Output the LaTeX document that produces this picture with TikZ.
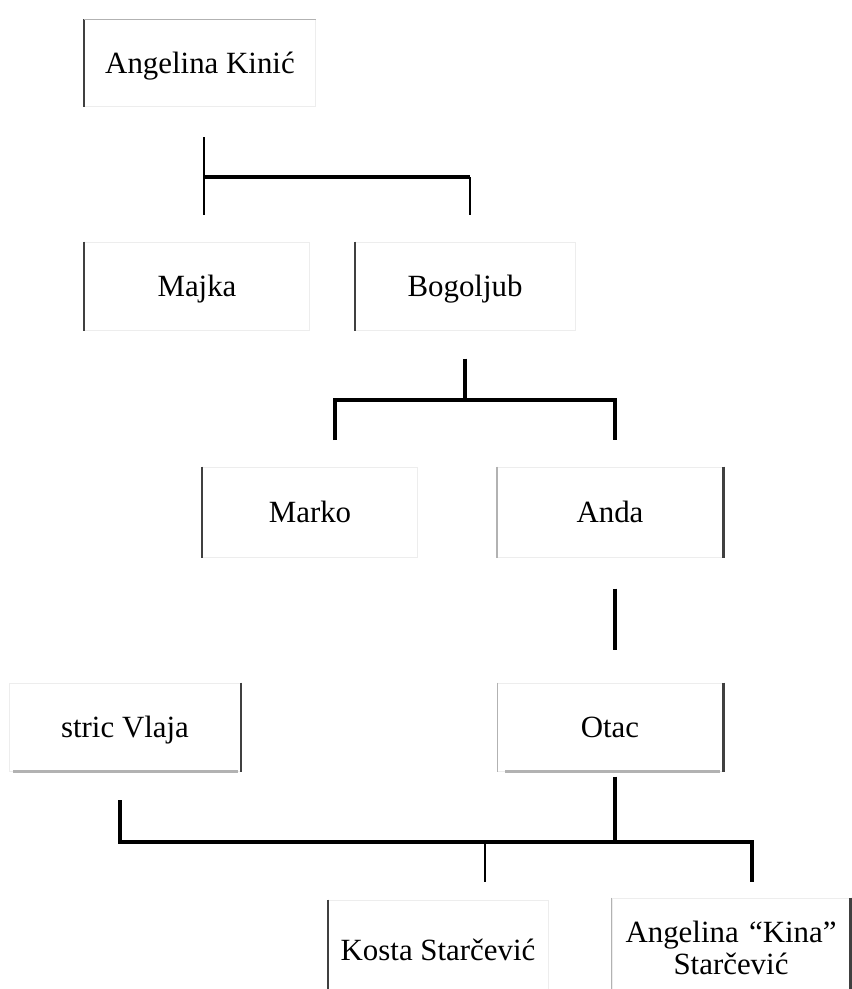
\documentclass[tikz,border=0pt]{standalone}
\usepackage{fontspec}
\setmainfont{Liberation Serif}
\begin{document}
\begin{tikzpicture}[x=1bp,y=-1bp,
  person/.style={draw=black!7, line width=1bp, inner sep=0pt, font=\fontsize{31}{32}\selectfont, align=center},
  oneline/.style={person, text height=24bp, text depth=4bp},
  edge/.style={line width=2bp, black!75},
  grayedge/.style={line width=2bp, black!30},
  thin/.style={line width=2bp},
  thick/.style={line width=4bp}]
\useasboundingbox (0,0) rectangle (852,989);
% boxes
\node[oneline, minimum width=230bp, minimum height=87bp] (kinic) at (200,63) {Angelina Kinić};
\node[oneline, minimum width=225bp, minimum height=88bp] (majka) at (197,286) {Majka};
\node[oneline, minimum width=220bp, minimum height=88bp] (bogoljub) at (465,286) {Bogoljub};
\node[oneline, minimum width=215bp, minimum height=90bp] (marko) at (310,512) {Marko};
\node[oneline, minimum width=226bp, minimum height=90bp] (anda) at (610,512) {Anda};
\node[oneline, minimum width=230bp, minimum height=88bp] (vlaja) at (125,727) {stric Vlaja};
\node[oneline, minimum width=225bp, minimum height=88bp] (otac) at (610,727) {Otac};
\node[oneline, minimum width=220bp, minimum height=100bp] (kosta) at (438,950) {Kosta Starčević};
\node[person, minimum width=238bp, minimum height=100bp, text width=238bp] (kina) at (731,948) {Angelina “Kina”\\Starčević};
% emphasised box edges
\draw[edge] (kinic.north west) -- (kinic.south west);
\draw[grayedge, line width=1bp] (kinic.north west) -- (kinic.north east);
\draw[edge] (majka.north west) -- (majka.south west);
\draw[edge] (bogoljub.north west) -- (bogoljub.south west);
\draw[edge] (marko.north west) -- (marko.south west);
\draw[grayedge] (anda.north west) -- (anda.south west);
\draw[edge, line width=3bp] (anda.north east) -- (anda.south east);
\draw[edge] (vlaja.north east) -- (vlaja.south east);
\draw[grayedge, line width=3bp] ([xshift=4bp]vlaja.south west) -- ([xshift=-3bp]vlaja.south east);
\draw[grayedge, line width=1bp] (otac.north west) -- (otac.south west);
\draw[edge, line width=3bp] (otac.north east) -- (otac.south east);
\draw[grayedge, line width=3bp] ([xshift=8bp]otac.south west) -- ([xshift=-3bp]otac.south east);
\draw[edge] (kosta.north west) -- (kosta.south west);
\draw[grayedge, line width=1bp] (kina.north west) -- (kina.south west);
\draw[edge, line width=3bp] (kina.north east) -- (kina.south east);
% connectors
\coordinate (j1) at (204,177);
\coordinate (j2) at (470,177);
\draw[thin] ([yshift=-30bp]kinic.south -| j1) -- (j1);
\draw[thin] (j1) -- ([yshift=27bp]majka.north -| j1);
\draw[thin] (j2) -- ([yshift=27bp]bogoljub.north -| j2);
\draw[thick] (j1) -- (j2);

\coordinate (j3) at (465,400);
\draw[thick] ([yshift=-28bp]bogoljub.south) -- (j3);
\coordinate (mk) at (335,440);
\coordinate (ad) at (615,440);
\draw[thick] (mk) |- (j3) -| (ad);

\draw[thick] ([yshift=-31bp]anda.south -| ad) -- ([yshift=33bp]otac.north -| ad);

\coordinate (j4) at (615,842);
\coordinate (vl) at (120,800);
\coordinate (ks) at (485,882);
\coordinate (kn) at (752,882);
\draw[thick] ([yshift=-5bp]otac.south -| j4) -- (j4);
\draw[thick] (vl) |- (j4) -| (kn);
\draw[thin] (ks |- j4) -- (ks);
\end{tikzpicture}
\end{document}
